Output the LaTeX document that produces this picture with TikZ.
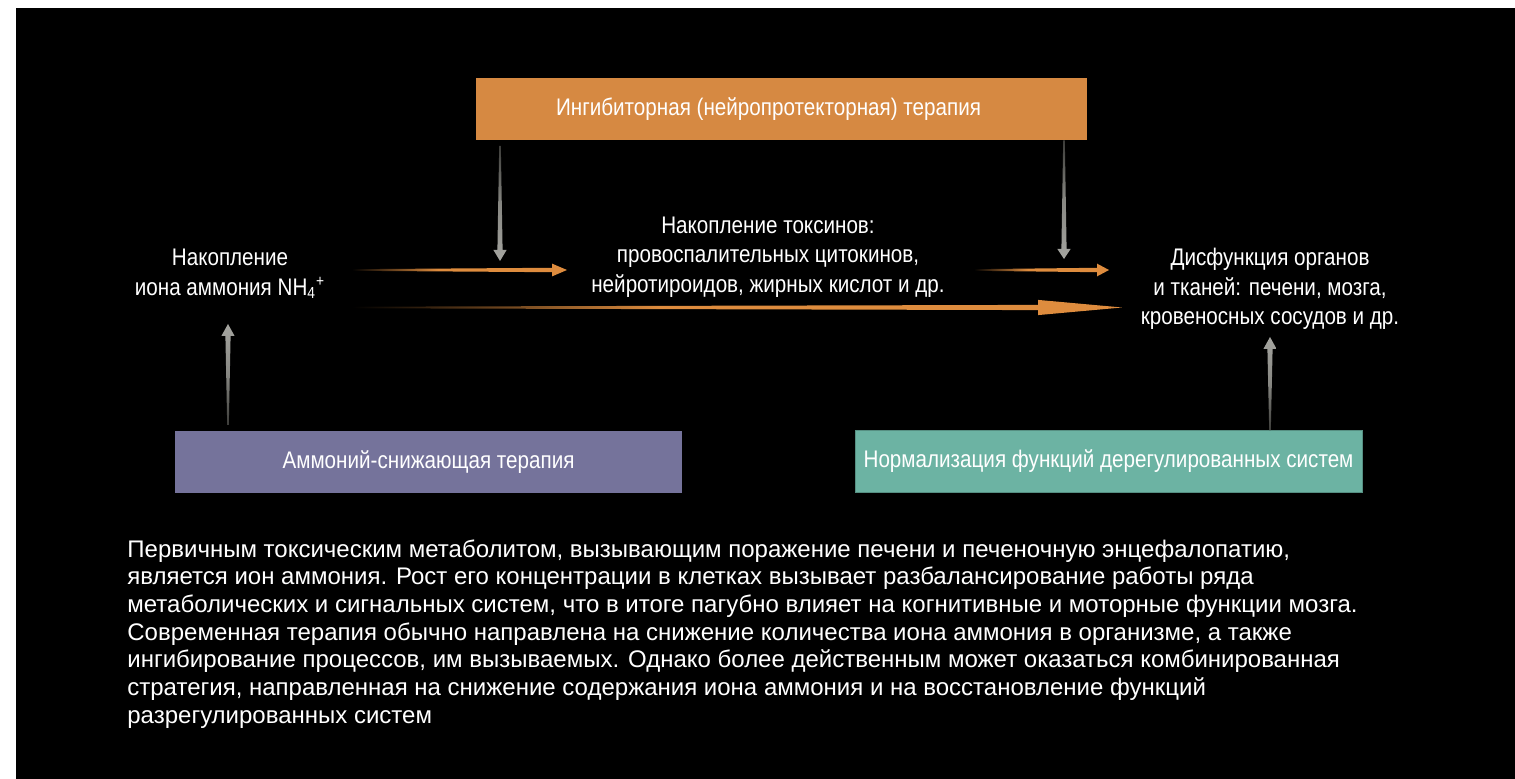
\documentclass[tikz,border=0pt]{standalone}
\usepackage{fontspec}
\setmainfont{Liberation Sans}
\newfontfamily\narrowfont[FakeStretch=0.86]{Liberation Sans}
\usetikzlibrary{calc}

\definecolor{inhibOrange}{RGB}{214,137,66}
\definecolor{ammPurple}{RGB}{117,115,155}
\definecolor{normTeal}{RGB}{108,179,163}
\definecolor{flowOrange}{RGB}{222,140,62}
\definecolor{flowGrayDark}{RGB}{60,60,57}
\definecolor{flowGray}{RGB}{135,135,130}
\definecolor{flowGrayLight}{RGB}{165,165,160}

\pgfdeclarehorizontalshading{orangefade}{100bp}{color(0bp)=(black); color(25bp)=(black); color(45bp)=(flowOrange); color(100bp)=(flowOrange)}
\pgfdeclareverticalshading{grayfade}{100bp}{color(0bp)=(flowGrayLight); color(25bp)=(flowGrayLight); color(50bp)=(flowGray); color(75bp)=(flowGrayDark); color(100bp)=(flowGrayDark)}

% tapered arrow: style, tail, tip, shaft half width, head half width, head length
\newcommand\flowarrow[6]{%
  \coordinate (flowbase) at ($(#3)!#6!(#2)$);
  \path[#1] ($(#2)!0.4pt!90:(#3)$) -- ($(flowbase)!#4!90:(#3)$) -- ($(flowbase)!#5!90:(#3)$)
    -- (#3) -- ($(flowbase)!#5!-90:(#3)$) -- ($(flowbase)!#4!-90:(#3)$) -- ($(#2)!0.4pt!-90:(#3)$) -- cycle;
}

\tikzset{
  therapy/.style={minimum height=31pt, inner sep=0pt, text=white, font=\narrowfont\fontsize{12}{14}\selectfont},
  stage/.style={align=center, inner sep=0pt, text=white, font=\narrowfont\fontsize{12}{14.75}\selectfont},
  hflow/.style={shading=orangefade},
  downflow/.style={shading=grayfade},
  upflow/.style={shading=grayfade, shading angle=180},
}

\begin{document}
\begin{tikzpicture}[x=0.5pt, y=-0.5pt]

\useasboundingbox (0,0) rectangle (1515,779);
\fill[black] (16,8) rectangle (1515,779);

\node[therapy, fill=inhibOrange, minimum width=305.5pt] (inhib) at (781.5,109) {Ингибиторная (нейропротекторная) терапия\hspace*{13pt}};
\node[therapy, fill=ammPurple, minimum width=253.5pt] (lower) at (428.5,462.5) {Аммоний-снижающая терапия};
\node[therapy, fill=normTeal, draw=normTeal!80!black, minimum width=253.5pt] (normal) at (1108.5,461.5) {Нормализация функций дерегулированных систем};

\node[stage] (ammonium) at (230,274) {Накопление\\иона аммония NH\textsubscript{4}\textsuperscript{+}};
\node[stage] (toxins) at (768,257) {Накопление токсинов:\\провоспалительных цитокинов,\\нейротироидов, жирных кислот и др.};
\node[stage] (damage) at (1270,289) {Дисфункция органов\\и тканей: печени, мозга,\\кровеносных сосудов и др.};

\coordinate (t1) at (352,270);
\coordinate (h1) at (567,270);
\coordinate (t2) at (974,270);
\coordinate (h2) at (1109,270);
\coordinate (t3) at (352,307.5);
\coordinate (h3) at (1122,307.5);

\flowarrow{hflow}{t1}{h1}{1.1pt}{3.2pt}{7.5pt}
\flowarrow{hflow}{t2}{h2}{1.1pt}{3.2pt}{6pt}
\flowarrow{hflow}{t3}{h3}{1.3pt}{3.8pt}{42pt}

\coordinate (d1) at (500,146);
\coordinate (e1) at (500,261);
\coordinate (e2) at (1064,259);
\flowarrow{downflow}{d1}{e1}{1.3pt}{3.3pt}{5.5pt}
\flowarrow{downflow}{inhib.south -| e2}{e2}{1.3pt}{3.3pt}{5pt}

\coordinate (u1) at (228,425);
\coordinate (f1) at (228,324);
\coordinate (f2) at (1270,337);
\flowarrow{upflow}{u1}{f1}{1.3pt}{3.3pt}{6pt}
\flowarrow{upflow}{normal.north -| f2}{f2}{1.3pt}{3.3pt}{6pt}

\node[anchor=north west, inner sep=0pt, text=white, align=left, font=\fontsize{12}{13.85}\selectfont] (caption) at (127,539) {Первичным токсическим метаболитом, вызывающим поражение печени и печеночную энцефалопатию,\\
является ион аммония. Рост его концентрации в клетках вызывает разбалансирование работы ряда\\
метаболических и сигнальных систем, что в итоге пагубно влияет на когнитивные и моторные функции мозга.\\
Современная терапия обычно направлена на снижение количества иона аммония в организме, а также\\
ингибирование процессов, им вызываемых. Однако более действенным может оказаться комбинированная\\
стратегия, направленная на снижение содержания иона аммония и на восстановление функций\\
разрегулированных систем};

\end{tikzpicture}
\end{document}
